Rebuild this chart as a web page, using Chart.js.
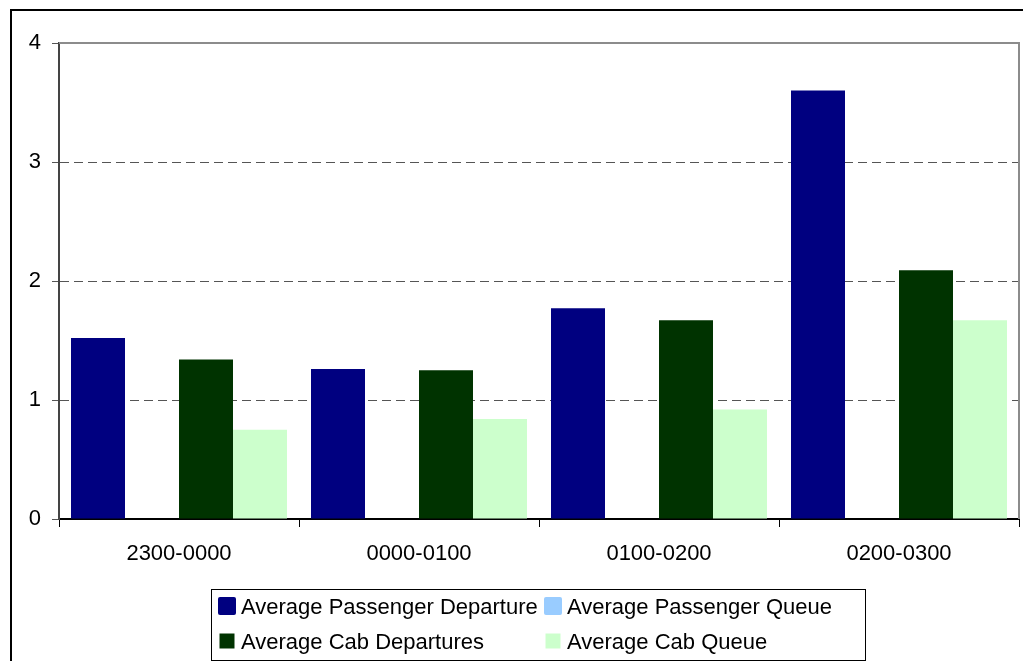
<!DOCTYPE html>
<html>
<head>
<meta charset="utf-8">
<title>Average departures and queues by hour</title>
<script src="https://cdn.jsdelivr.net/npm/chart.js@4/dist/chart.umd.min.js"></script>
<style>
  html, body { margin: 0; padding: 0; background: #fff; }
  #wrap { width: 1023px; height: 661px; }
</style>
</head>
<body>
<div id="wrap"><canvas id="chart" width="1023" height="661"></canvas></div>
<script>
// hour bands on the x axis
var hours = ['2300-0000', '0000-0100', '0100-0200', '0200-0300'];

// series values per hour band
var passengerDeparture = [1.52, 1.26, 1.77, 3.60];
var passengerQueue = [0, 0, 0, 0];
var cabDepartures = [1.34, 1.25, 1.67, 2.09];
var cabQueue = [0.75, 0.84, 0.92, 1.67];

var yTicks = [0, 1, 2, 3, 4];

var axisFont = { family: '"Liberation Sans", Arial, sans-serif', size: 22 };

// frame round the whole chart + top/right edge of the plot area
var framePlugin = {
    id: 'frame',
    afterDraw: function (chart) {
        var ctx = chart.ctx;
        var a = chart.chartArea;
        ctx.save();
        ctx.strokeStyle = '#8c8c8c';
        ctx.lineWidth = 2;
        ctx.beginPath();
        ctx.moveTo(a.left, a.top);
        ctx.lineTo(a.right, a.top);
        ctx.lineTo(a.right, a.bottom);
        ctx.stroke();

        ctx.strokeStyle = '#000';
        ctx.lineWidth = 2;
        ctx.beginPath();
        ctx.moveTo(11, chart.height);
        ctx.lineTo(11, 10);
        ctx.lineTo(chart.width, 10);
        ctx.stroke();
        ctx.restore();
    }
};

// boxed two-column legend under the axis
var boxLegendPlugin = {
    id: 'boxLegend',
    afterDraw: function (chart) {
        var ctx = chart.ctx;
        var box = { x: 211.5, y: 589.5, w: 654, h: 71 };
        var cols = [218, 544];
        var rows = [606, 641];
        ctx.save();
        ctx.strokeStyle = '#000';
        ctx.lineWidth = 1;
        ctx.strokeRect(box.x, box.y, box.w, box.h);

        ctx.font = '22px "Liberation Sans", Arial, sans-serif';
        ctx.textBaseline = 'middle';
        chart.data.datasets.forEach(function (ds, i) {
            var cx = cols[i % 2];
            var cy = rows[Math.floor(i / 2)];
            var s = i < 2 ? 18 : 15;
            ctx.fillStyle = ds.backgroundColor;
            ctx.beginPath();
            ctx.roundRect(cx + (18 - s) / 2, cy - s / 2, s, s, i < 2 ? 2 : 0);
            ctx.fill();
            ctx.fillStyle = '#000';
            ctx.fillText(ds.label, cx + 23, cy + 2);
        });
        ctx.restore();
    }
};

new Chart(document.getElementById('chart'), {
    type: 'bar',
    data: {
        labels: hours,
        datasets: [{
            label: 'Average Passenger Departure',
            data: passengerDeparture,
            backgroundColor: '#000080'
        }, {
            label: 'Average Passenger Queue',
            data: passengerQueue,
            backgroundColor: '#99CCFF'
        }, {
            label: 'Average Cab Departures',
            data: cabDepartures,
            backgroundColor: '#003300'
        }, {
            label: 'Average Cab Queue',
            data: cabQueue,
            backgroundColor: '#CCFFCC'
        }]
    },
    options: {
        responsive: false,
        animation: false,
        devicePixelRatio: 1,
        layout: {
            padding: { left: 0, top: 43, right: 4, bottom: 0 }
        },
        datasets: {
            bar: {
                categoryPercentage: 0.9,
                barPercentage: 1.0,
                borderWidth: 0
            }
        },
        plugins: {
            legend: { display: false },
            tooltip: { enabled: false }
        },
        scales: {
            x: {
                grid: {
                    offset: true,
                    drawOnChartArea: false,
                    color: '#000',
                    tickLength: 8
                },
                border: { color: '#000', width: 2 },
                ticks: {
                    color: '#000',
                    font: axisFont,
                    padding: 14,
                    maxRotation: 0
                },
                afterFit: function (scale) { scale.height = 142; }
            },
            y: {
                min: 0,
                max: 4,
                afterBuildTicks: function (scale) {
                    scale.ticks = yTicks.map(function (v) { return { value: v }; });
                },
                grid: {
                    color: '#555',
                    tickLength: 7,
                    lineWidth: 1
                },
                border: { color: '#444', width: 2, dash: [9, 5] },
                ticks: {
                    color: '#000',
                    font: axisFont,
                    padding: 11
                },
                afterFit: function (scale) { scale.width = 59; }
            }
        }
    },
    plugins: [framePlugin, boxLegendPlugin]
});
</script>
</body>
</html>
